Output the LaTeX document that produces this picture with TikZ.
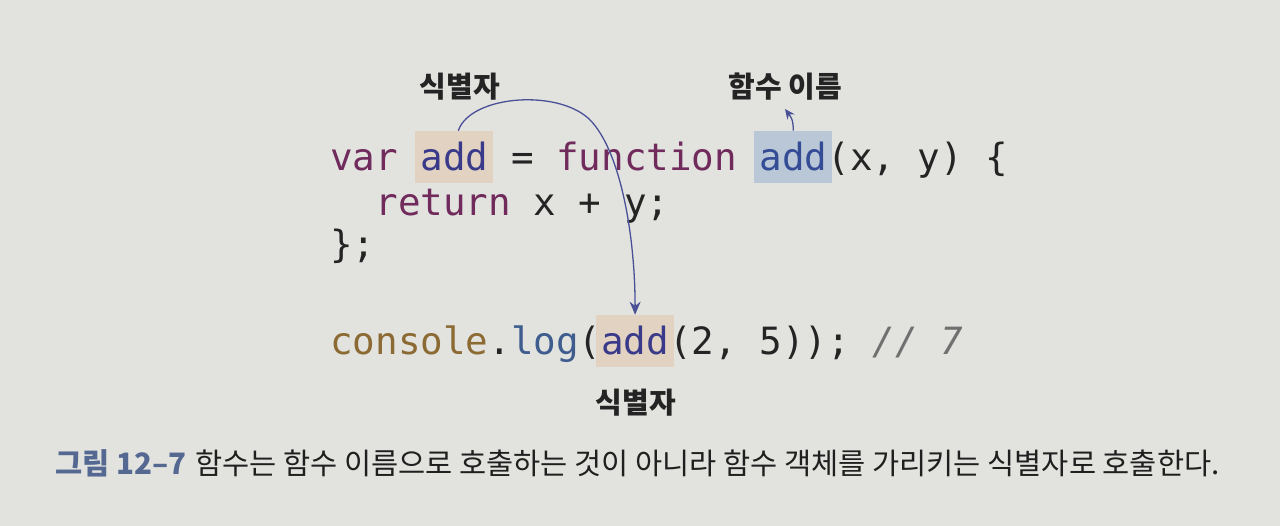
\documentclass[tikz,border=0pt]{standalone}
\usepackage{fontspec}
\setmonofont{DejaVu Sans Mono}
\newfontfamily\kr{Noto Sans CJK KR}
\usetikzlibrary{arrows.meta,calc}

\definecolor{bgc}{RGB}{226,227,223}
\definecolor{kwc}{RGB}{112,42,92}
\definecolor{idc}{RGB}{58,58,138}
\definecolor{fnc}{RGB}{52,76,150}
\definecolor{conc}{RGB}{140,106,52}
\definecolor{logc}{RGB}{62,92,142}
\definecolor{plc}{RGB}{36,36,36}
\definecolor{cmc}{RGB}{112,112,112}
\definecolor{peach}{RGB}{225,210,193}
\definecolor{bluebox}{RGB}{186,199,215}
\definecolor{arrc}{RGB}{74,80,150}
\definecolor{capc}{RGB}{84,104,146}

\newcommand{\kw}[1]{\textcolor{kwc}{#1}}
\newcommand{\pl}[1]{\textcolor{plc}{#1}}

\begin{document}
\begin{tikzpicture}[x=1pt, y=-1pt, >={Stealth[length=13pt, width=11pt]}, semithick, auto]

    \tikzstyle{code} = [anchor=base west, inner sep=0pt, font=\ttfamily\fontsize{37.54}{40}\selectfont]
    \tikzstyle{hl} = [anchor=base, inner xsep=5pt, inner ysep=0pt, text height=40pt, text depth=12pt, font=\ttfamily\fontsize{37.54}{40}\selectfont]
    \tikzstyle{tag} = [inner sep=0pt, text=plc, font=\kr\bfseries\fontsize{29}{31}\selectfont]
    \tikzstyle{link} = [draw=arrc, line width=1.3pt]

    \fill[bgc] (0,0) rectangle (1280,526);
    \useasboundingbox (0,0) rectangle (1280,526);

    % highlighted identifiers (column * 22.6 + 330)
    \node (defadd)  [hl, fill=peach, text=idc]   at (454.3,171) {add};
    \node (fnadd)   [hl, fill=bluebox, text=fnc] at (793.3,171) {add};
    \node (calladd) [hl, fill=peach, text=idc]   at (635.1,355) {add};

    % code lines
    \node (line1) [code] at (330,171) {\kw{var} \phantom{add} \pl{=} \kw{function} \phantom{add}\pl{(x, y) \{}};
    \node (line2) [code] at (330,216) {\phantom{r} \kw{return} \pl{x + y;}};
    \node (line3) [code] at (330,258) {\pl{\};}};
    \node (line4) [code] at (330,355) {\textcolor{conc}{console}\pl{.}\textcolor{logc}{log}\pl{(}\phantom{add}\pl{(2, 5));} \textcolor{cmc}{\itshape // 7}};

    % labels
    \node (idtop)  [tag] at (460,87)  {식별자};
    \node (fnname) [tag] at (785,87)  {함수 이름};
    \node (idbot)  [tag] at (636,403) {식별자};

    \coordinate (turn) at (592,122);
    \coordinate (fntip) at (785,109);

    \draw[link, ->] ([xshift=4pt]defadd.north) .. controls +(12,-36) and +(-30,-34) .. (turn)
                                   .. controls +(30,34) and +(0,-75) .. (calladd.north);
    \draw[link, -{Stealth[length=10pt, width=9pt]}] (fnadd.north) .. controls +(0,-11) and +(6,8) .. (fntip);

    % caption
    \node (caption) [anchor=base west, inner sep=0pt, font=\kr\fontsize{29.5}{32}\selectfont] at (55,474)
        {\textcolor{capc}{\bfseries 그림 12–7}\hspace{9pt}\textcolor{black!88}{함수는 함수 이름으로 호출하는 것이 아니라 함수 객체를 가리키는 식별자로 호출한다.}};
\end{tikzpicture}
\end{document}
